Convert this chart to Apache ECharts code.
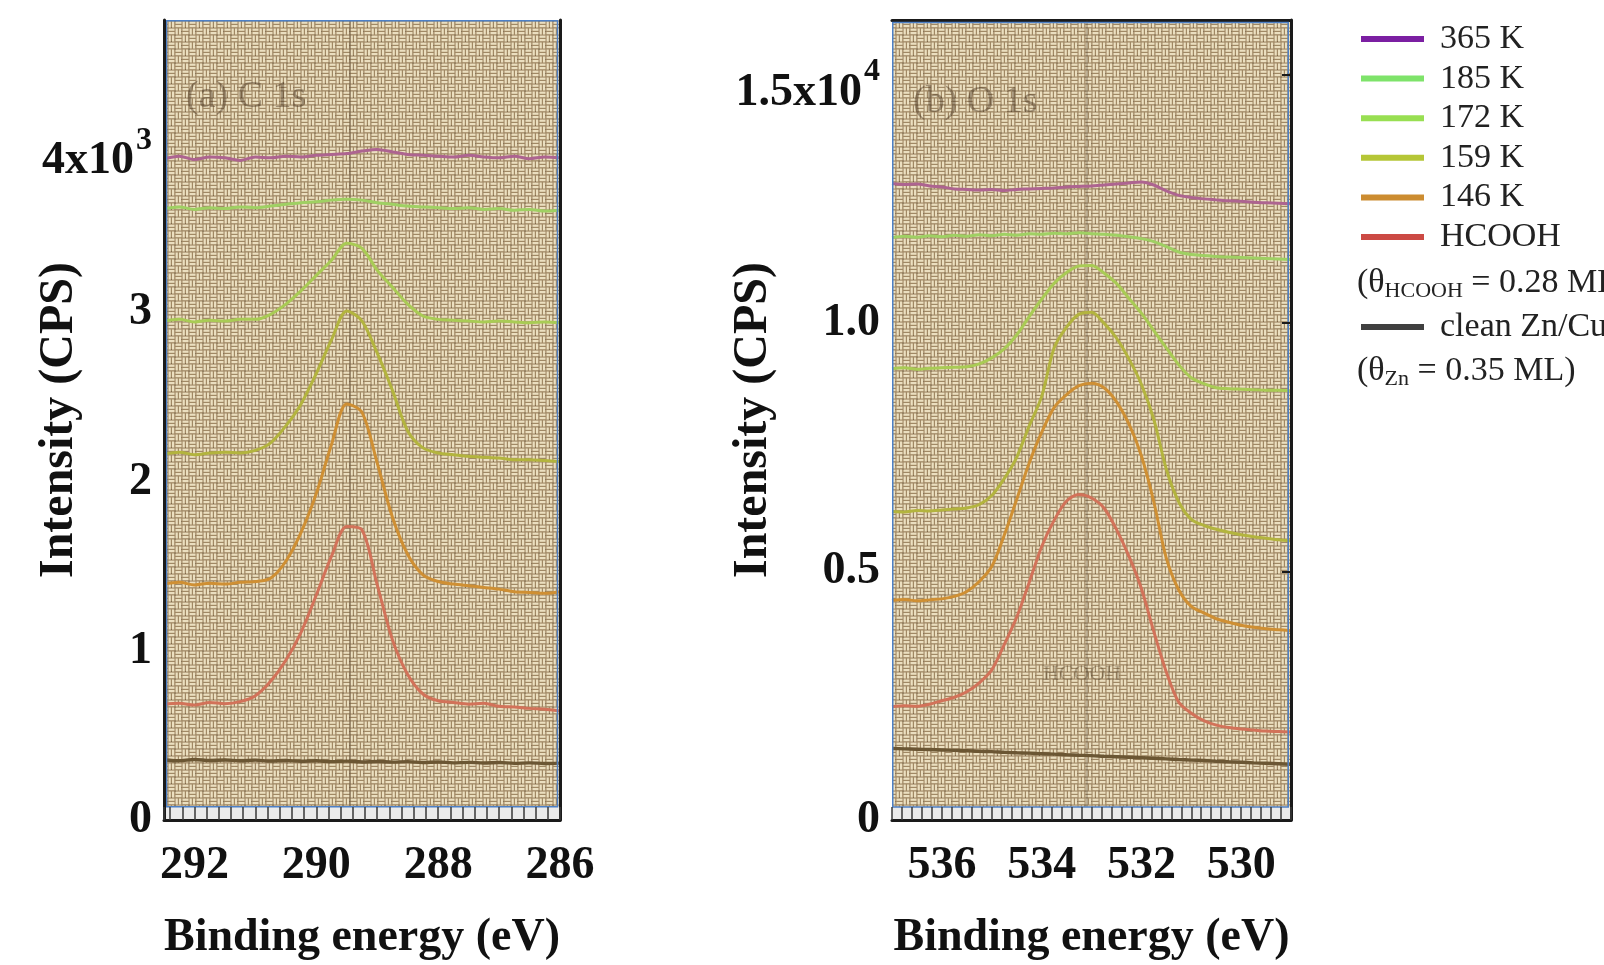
<!DOCTYPE html>
<html>
<head>
<meta charset="utf-8">
<script src="https://cdn.jsdelivr.net/npm/echarts/dist/echarts.min.js"></script>
<style>
  html, body { margin: 0; padding: 0; background: #ffffff; }
  #chart { width: 1604px; height: 965px; }
</style>
</head>
<body>
<div id="chart"></div>
<script>
// ---- C 1s spectra (binding energy in eV, intensity in CPS) ----
const cEnergy = [292.5,292.25,292,291.75,291.5,291.25,291,290.75,290.5,290.25,290,289.75,289.5,289.25,289,288.75,288.5,288.25,288,287.75,287.5,287.25,287,286.75,286.5,286.25,286];
const c365   = [3910,3925,3905,3920,3915,3900,3920,3915,3925,3920,3930,3935,3940,3955,3965,3950,3935,3930,3925,3920,3930,3920,3915,3925,3910,3920,3915];
const c185   = [3615,3625,3610,3620,3615,3625,3620,3630,3640,3650,3655,3665,3670,3665,3650,3640,3630,3625,3620,3615,3620,3610,3615,3605,3610,3600,3605];
const c172   = [2950,2960,2945,2955,2950,2960,2960,2990,3050,3130,3220,3310,3410,3380,3250,3150,3050,2980,2960,2955,2950,2945,2950,2945,2940,2945,2940];
const c159   = [2165,2175,2160,2170,2175,2170,2185,2230,2330,2460,2640,2840,3010,2950,2760,2540,2300,2200,2170,2160,2150,2145,2140,2130,2130,2125,2120];
const c146   = [1395,1405,1390,1400,1395,1405,1410,1430,1530,1700,1930,2220,2460,2410,2110,1790,1570,1450,1410,1395,1385,1375,1365,1350,1345,1340,1350];
const cHCOOH = [685,690,680,695,688,700,735,820,945,1110,1330,1560,1735,1715,1390,1065,860,745,705,695,685,690,672,668,660,655,645];
const cClean = [355,350,358,352,355,350,354,348,352,347,350,345,348,343,346,342,345,340,343,338,341,337,340,335,338,334,336];

// ---- O 1s spectra ----
const oEnergy = [537,536.75,536.5,536.25,536,535.75,535.5,535.25,535,534.75,534.5,534.25,534,533.75,533.5,533.25,533,532.75,532.5,532.25,532,531.75,531.5,531.25,531,530.75,530.5,530.25,530,529.75,529.5,529.25,529];
const o365   = [12810,12790,12800,12760,12740,12700,12690,12680,12690,12670,12690,12700,12710,12720,12740,12750,12760,12780,12800,12820,12840,12780,12660,12570,12530,12500,12480,12460,12450,12430,12420,12410,12400];
const o185   = [11720,11750,11730,11760,11740,11770,11750,11780,11760,11790,11770,11800,11790,11810,11800,11820,11800,11790,11770,11740,11700,11640,11540,11430,11380,11360,11340,11330,11320,11310,11300,11290,11280];
const o172   = [9080,9100,9070,9090,9100,9110,9120,9180,9300,9480,9760,10130,10480,10800,11020,11150,11160,11010,10800,10500,10200,9850,9500,9160,8900,8780,8700,8680,8670,8660,8650,8650,8640];
const o159   = [6210,6200,6230,6220,6240,6260,6280,6350,6530,6870,7300,7930,8520,9500,9920,10180,10220,10000,9700,9280,8770,8060,7060,6400,6050,5930,5850,5790,5740,5700,5670,5640,5620];
const o146   = [4420,4440,4410,4430,4450,4500,4600,4800,5100,5730,6450,7180,7800,8300,8560,8740,8790,8700,8420,7970,7330,6400,5270,4630,4300,4170,4050,3980,3920,3880,3850,3830,3810];
const oHCOOH = [2280,2300,2290,2330,2400,2470,2580,2760,3020,3530,4080,4780,5500,6030,6420,6550,6480,6280,5850,5310,4660,3790,2980,2370,2150,2000,1910,1860,1830,1810,1790,1780,1770];
const oClean = [1440,1432,1425,1418,1410,1402,1395,1382,1376,1362,1352,1345,1332,1326,1312,1303,1296,1282,1272,1262,1252,1242,1231,1217,1206,1196,1182,1171,1162,1150,1141,1131,1120];

// peak guide positions (eV)
const cGuide = [289.45];
const oGuide = [533.1];

// series names, legend swatch colours and in-plot trace colours
const names        = ['365 K', '185 K', '172 K', '159 K', '146 K', 'HCOOH', 'clean Zn/Cu(111)'];
const legendColors = ['#7b1fa2', '#7ee36a', '#98df52', '#b5c636', '#cc8c30', '#cc4a44', '#404040'];
const traceColors  = ['#ad6490', '#9fd063', '#a9cb55', '#b3b43e', '#cf8f33', '#d27259', '#6b5633'];
const cSets = [c365, c185, c172, c159, c146, cHCOOH, cClean];
const oSets = [o365, o185, o172, o159, o146, oHCOOH, oClean];

// layout
const G1 = { left: 164, top: 20, width: 396, height: 800 };
const G2 = { left: 892, top: 20, width: 399, height: 800 };
const FONT = '"Liberation Serif", "Times New Roman", serif';
const BLUE = '#4d80c6';
const INK = '#111111';

// woven canvas texture used as the plot background
function weave() {
  const s = 14, h = 7;
  const c = document.createElement('canvas');
  c.width = s; c.height = s;
  const g = c.getContext('2d');
  g.fillStyle = '#a08864';
  g.fillRect(0, 0, s, s);
  g.fillStyle = '#ebdfc0';
  const horiz = (x, y) => { g.fillRect(x + 0.5, y + 0.6, 6, 2.2); g.fillRect(x + 0.5, y + 4, 6, 2.2); };
  const vert  = (x, y) => { g.fillRect(x + 0.6, y + 0.5, 2.2, 6); g.fillRect(x + 4, y + 0.5, 2.2, 6); };
  horiz(0, 0); vert(h, 0); vert(0, h); horiz(h, h);
  g.fillStyle = 'rgba(55,42,30,0.6)';
  g.fillRect(6.6, 6.6, 1, 1);
  g.fillRect(13.4, 3, 0.9, 0.9);
  g.fillRect(3, 13.4, 0.9, 0.9);
  return c;
}
const texture = { image: weave(), repeat: 'repeat' };

const boldLabel = { fontSize: 46, fontWeight: 'bold', fontFamily: FONT, color: INK };
const supRich = {
  b:   { fontSize: 46, fontWeight: 'bold', fontFamily: FONT, color: INK, lineHeight: 46, padding: [36, 0, 0, 0] },
  sup: { fontSize: 32, fontWeight: 'bold', fontFamily: FONT, color: INK, lineHeight: 34, padding: [4, 0, 0, 2], verticalAlign: 'top' }
};
const nameStyleX = { fontSize: 46, fontWeight: 'bold', fontFamily: FONT, color: INK };
const nameStyleY = { fontSize: 48, fontWeight: 'bold', fontFamily: FONT, color: INK };
const blackLine = { show: true, lineStyle: { color: '#1a1a1a', width: 3 } };
const isEven = v => Math.abs(v - 2 * Math.round(v / 2)) < 1e-6;

function labelAxis(grid, min, max) {
  return {
    gridIndex: grid, type: 'value', min: min, max: max, interval: 1, inverse: true, position: 'bottom',
    axisLine: { show: false }, axisTick: { show: false }, splitLine: { show: false },
    axisLabel: Object.assign({ margin: 23, formatter: v => (isEven(v) ? String(Math.round(v)) : '') }, boldLabel),
    name: 'Binding energy (eV)', nameLocation: 'middle', nameGap: 95, nameMoveOverlap: false, nameTextStyle: nameStyleX
  };
}
function combAxis(grid, min, max) {
  return {
    gridIndex: grid, type: 'value', min: min, max: max, interval: 0.2, inverse: true, position: 'bottom', z: 60,
    axisLine: blackLine,
    axisTick: { show: true, inside: true, length: 13, lineStyle: { color: '#3a3a3a', width: 1.5 } },
    axisLabel: { show: false }, splitLine: { show: false }
  };
}

const series = [];
names.forEach((name, i) => {
  const common = {
    type: 'line', name: name, showSymbol: false, smooth: 0.3, animation: false,
    itemStyle: { color: legendColors[i] },
    lineStyle: { color: traceColors[i], width: i === 6 ? 3.4 : 3 },
    z: 5
  };
  const guideStyle = {
    silent: true, symbol: 'none', label: { show: false },
    lineStyle: { color: 'rgba(60,45,28,0.25)', width: 2, type: 'solid' }
  };
  series.push(Object.assign({}, common, {
    xAxisIndex: 0, yAxisIndex: 0,
    data: cEnergy.map((e, k) => [e, cSets[i][k]]),
    markLine: i === 6 ? Object.assign({ data: cGuide.map(v => ({ xAxis: v })) }, guideStyle) : undefined
  }));
  series.push(Object.assign({}, common, {
    xAxisIndex: 2, yAxisIndex: 2,
    data: oEnergy.map((e, k) => [e, oSets[i][k]]),
    markLine: i === 6 ? Object.assign({ data: oGuide.map(v => ({ xAxis: v })) }, guideStyle) : undefined
  }));
});

const legendText = { fontSize: 34, fontFamily: FONT, color: '#222', lineHeight: 34, padding: [0, 0, 0, 11] };
const thetaRich = {
  s: { fontSize: 22, fontFamily: FONT, fill: '#222', padding: [16, 0, 0, 0], lineHeight: 22 }
};

const option = {
  animation: false,
  backgroundColor: '#ffffff',
  grid: [
    Object.assign({ show: true, borderWidth: 0, backgroundColor: texture, containLabel: false, outerBoundsMode: 'none' }, G1),
    Object.assign({ show: true, borderWidth: 0, backgroundColor: texture, containLabel: false, outerBoundsMode: 'none' }, G2)
  ],
  xAxis: [
    labelAxis(0, 286, 292.5),
    combAxis(0, 286, 292.5),
    labelAxis(1, 529, 537),
    combAxis(1, 529, 537),
    { gridIndex: 1, type: 'value', min: 529, max: 537, inverse: true, position: 'top',
      axisLine: blackLine, axisTick: { show: false }, axisLabel: { show: false }, splitLine: { show: false } }
  ],
  yAxis: [
    { gridIndex: 0, type: 'value', min: 0, max: 4730, interval: 1000, position: 'left', z: 60,
      axisLine: blackLine, axisTick: { show: false }, splitLine: { show: false },
      axisLabel: Object.assign({ margin: 12, rich: supRich,
        formatter: v => (v === 4000 ? '{b|4x10}{sup|3}' : (v % 1000 === 0 ? String(v / 1000) : '')) }, boldLabel),
      name: 'Intensity (CPS)', nameLocation: 'middle', nameGap: 80, nameMoveOverlap: false, nameRotate: 90, nameTextStyle: nameStyleY },
    { gridIndex: 0, type: 'value', min: 0, max: 4730, position: 'right', z: 60,
      axisLine: blackLine, axisTick: { show: false }, axisLabel: { show: false }, splitLine: { show: false } },
    { gridIndex: 1, type: 'value', min: 0, max: 16100, interval: 5000, position: 'left',
      axisLine: { show: false }, axisTick: { show: false }, splitLine: { show: false },
      axisLabel: Object.assign({ margin: 12, rich: supRich,
        formatter: v => ({ 0: '0', 5000: '0.5', 10000: '1.0', 15000: '{b|1.5x10}{sup|4}' }[v] || '') }, boldLabel),
      name: 'Intensity (CPS)', nameLocation: 'middle', nameGap: 114, nameMoveOverlap: false, nameRotate: 90, nameTextStyle: nameStyleY },
    { gridIndex: 1, type: 'value', min: 0, max: 16100, interval: 5000, position: 'right', z: 60,
      axisLine: blackLine,
      axisTick: { show: true, inside: true, length: 9, lineStyle: { color: '#1a1a1a', width: 2 } },
      axisLabel: { show: false }, splitLine: { show: false } }
  ],
  legend: [
    { orient: 'vertical', left: 1361, top: 22, padding: 0, itemGap: 5.6, itemWidth: 63, itemHeight: 6,
      icon: 'rect', selectedMode: false, textStyle: legendText,
      data: names.slice(0, 6).map((n, i) => ({ name: n, itemStyle: { color: legendColors[i] } })) },
    { orient: 'vertical', left: 1361, top: 310, padding: 0, itemWidth: 63, itemHeight: 6,
      icon: 'rect', selectedMode: false, textStyle: legendText,
      data: [{ name: names[6], itemStyle: { color: legendColors[6] } }] }
  ],
  graphic: [
    // light strip holding the minor-tick comb
    { type: 'rect', silent: true, z: 40, shape: { x: G1.left, y: G1.top + G1.height - 13, width: G1.width, height: 13 }, style: { fill: '#ebebeb' } },
    { type: 'rect', silent: true, z: 40, shape: { x: G2.left, y: G2.top + G2.height - 13, width: G2.width, height: 13 }, style: { fill: '#ebebeb' } },
    // thin inner frames
    { type: 'rect', silent: true, z: 50, shape: { x: G1.left + 2.5, y: G1.top + 0.75, width: G1.width - 5, height: G1.height - 14 }, style: { fill: null, stroke: BLUE, lineWidth: 1.5 } },
    { type: 'rect', silent: true, z: 50, shape: { x: G2.left + 0.75, y: G2.top + 2.5, width: G2.width - 3.5, height: G2.height - 15.5 }, style: { fill: null, stroke: BLUE, lineWidth: 1.5 } },
    // faint panel captions
    { type: 'text', silent: true, z: 45, left: 186, top: 78, style: { text: '(a) C 1s', font: '38px "Liberation Serif", serif', fill: 'rgba(70,52,30,0.45)' } },
    { type: 'text', silent: true, z: 45, left: 913, top: 83, style: { text: '(b) O 1s', font: '38px "Liberation Serif", serif', fill: 'rgba(70,52,30,0.45)' } },
    { type: 'text', silent: true, z: 45, left: 1043, top: 663, style: { text: 'HCOOH', font: '22px "Liberation Serif", serif', fill: 'rgba(70,52,30,0.35)' } },
    // coverage notes in the legend column
    { type: 'text', silent: true, z: 60, left: 1357, top: 264, style: { text: '(θ{s|HCOOH} = 0.28 ML)', font: '34px "Liberation Serif", serif', fill: '#222', rich: thetaRich } },
    { type: 'text', silent: true, z: 60, left: 1357, top: 352, style: { text: '(θ{s|Zn} = 0.35 ML)', font: '34px "Liberation Serif", serif', fill: '#222', rich: thetaRich } }
  ],
  series: series
};

const chart = echarts.init(document.getElementById('chart'), null, { renderer: 'canvas' });
chart.setOption(option);
</script>
</body>
</html>
